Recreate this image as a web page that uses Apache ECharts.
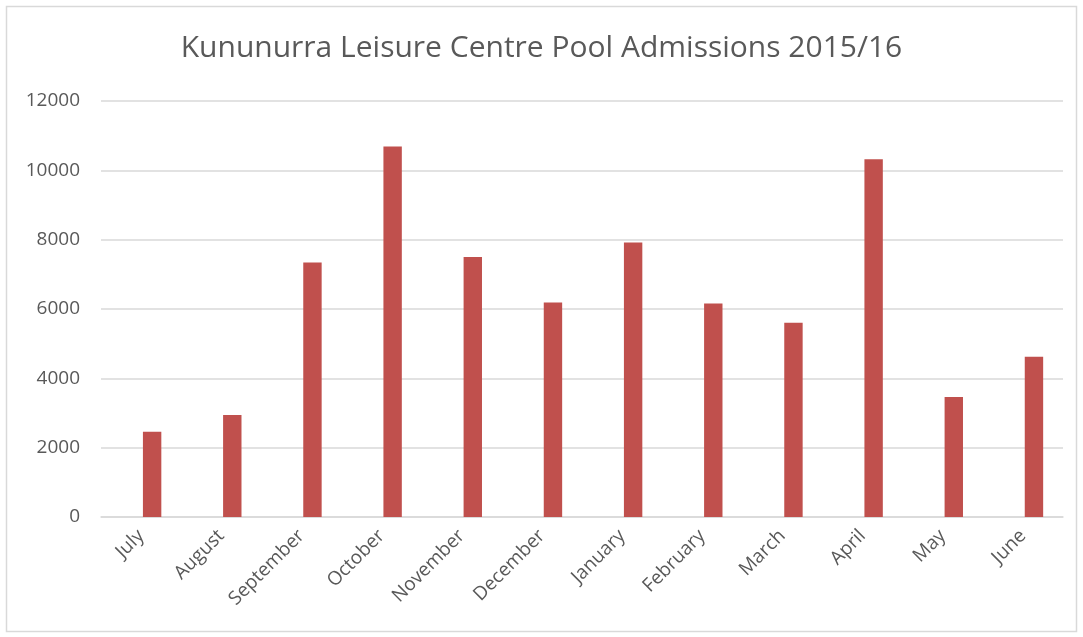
<!DOCTYPE html>
<html>
<head>
<meta charset="utf-8">
<script src="https://cdn.jsdelivr.net/npm/echarts@6/dist/echarts.min.js"></script>
<style>html,body{margin:0;padding:0;background:#fff}#c{width:1083px;height:637px}</style>
</head>
<body>
<div id="c"></div>
<script>
const titleText = 'Kununurra Leisure Centre Pool Admissions 2015/16';
const months = ['July','August','September','October','November','December','January','February','March','April','May','June'];
const admissions = [2460, 2940, 7340, 10690, 7500, 6190, 7920, 6160, 5600, 10320, 3460, 4620];
const emptySeries = [null, null, null, null, null, null, null, null, null, null, null, null];

const chart = echarts.init(document.getElementById('c'), null, {renderer: 'canvas'});
const txt = '#595959';
const font = 'Open Sans';
chart.setOption({
  animation: false,
  backgroundColor: '#fff',
  title: {
    text: titleText, left: 'center', top: 28,
    textStyle: {fontFamily: font, fontSize: 30, fontWeight: 'normal', color: txt}
  },
  graphic: [{
    type: 'rect', silent: true,
    shape: {x: 6.5, y: 6.5, width: 1070, height: 625},
    style: {fill: 'none', stroke: '#d9d9d9', lineWidth: 1.5}
  }],
  grid: {left: 101, right: 20, top: 101, bottom: 120, containLabel: false},
  xAxis: {
    type: 'category', data: months,
    axisLine: {show: true, lineStyle: {color: '#d9d9d9', width: 1.5}},
    axisTick: {show: false},
    axisLabel: {rotate: 45, margin: 16, fontFamily: font, fontSize: 19, color: txt, interval: 0}
  },
  yAxis: {
    type: 'value', min: 0, max: 12000, interval: 2000,
    axisLine: {show: false}, axisTick: {show: false},
    splitLine: {lineStyle: {color: '#d9d9d9', width: 1.5}},
    axisLabel: {margin: 21, fontFamily: font, fontSize: 19, color: txt, formatter: v => String(v)}
  },
  series: [
    {type: 'bar', name: 'blank', data: emptySeries, barWidth: 18.4, barGap: '20%'},
    {type: 'bar', name: 'Admissions', data: admissions, barWidth: 18.4, barGap: '20%',
     itemStyle: {color: '#c0504d'}}
  ]
});
</script>
</body>
</html>
